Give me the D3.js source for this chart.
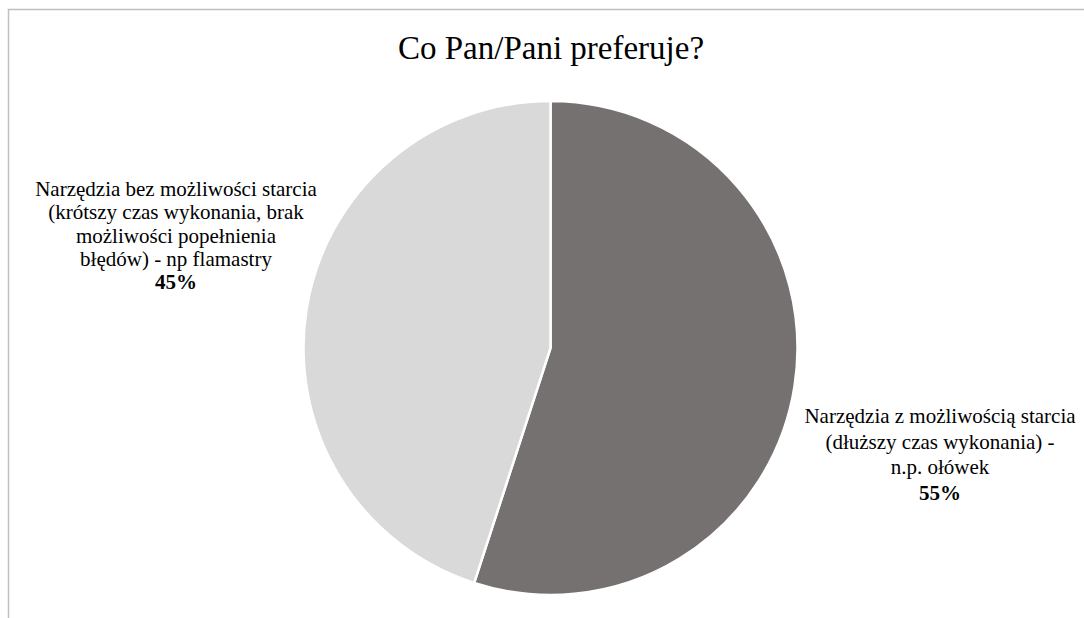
<!DOCTYPE html>
<html><head><meta charset="utf-8">
<script src="https://cdn.jsdelivr.net/npm/d3@7"></script>
<style>
html,body{margin:0;padding:0;background:#fff;}
svg{display:block;}
</style></head>
<body>
<svg id="chart" width="1084" height="618"></svg>
<script>
const title = "Co Pan/Pani preferuje?";
const categories = ["Narzędzia z możliwością starcia (dłuższy czas wykonania) - n.p. ołówek",
                    "Narzędzia bez możliwości starcia (krótszy czas wykonania, brak możliwości popełnienia błędów) - np flamastry"];
const labelLines = [
  ["Narzędzia z możliwością starcia", "(dłuższy czas wykonania) -", "n.p. ołówek"],
  ["Narzędzia bez możliwości starcia", "(krótszy czas wykonania, brak", "możliwości popełnienia", "błędów) - np flamastry"]
];
const values = [55, 45];
const colors = ["#767171", "#d9d9d9"];
const FONT = "Liberation Serif";

const svg = d3.select("#chart");
svg.append("rect").attr("x", 8.5).attr("y", 9.5).attr("width", 1100).attr("height", 700)
  .attr("fill", "#fff").attr("stroke", "#bfbfbf").attr("stroke-width", 1.5);

svg.append("text").attr("x", 551).attr("y", 59).attr("text-anchor", "middle")
  .attr("font-family", FONT).attr("font-size", 33).attr("fill", "#000").text(title);

const cx = 550.5, cy = 348, r = 247;
const pie = d3.pie().sort(null).value(d => d)(values);
const arc = d3.arc().innerRadius(0).outerRadius(r);
const g = svg.append("g").attr("transform", `translate(${cx},${cy})`);
g.selectAll("path").data(pie).join("path")
  .attr("d", arc).attr("fill", (d, i) => colors[i])
  .attr("stroke", "#fff").attr("stroke-width", 2.5).attr("stroke-linejoin", "miter");

const labelPos = [{x: 940, y: 423, lh: 25.5}, {x: 176, y: 196, lh: 23.3}];
labelLines.forEach((lines, i) => {
  const all = lines.concat([values[i] + "%"]);
  all.forEach((l, j) => {
    svg.append("text").attr("text-anchor", "middle")
      .attr("x", labelPos[i].x).attr("y", labelPos[i].y + j * labelPos[i].lh)
      .attr("font-family", FONT).attr("font-size", 21).attr("fill", "#000")
      .attr("font-weight", j === lines.length ? "bold" : "normal")
      .text(l);
  });
});
</script>
</body></html>
